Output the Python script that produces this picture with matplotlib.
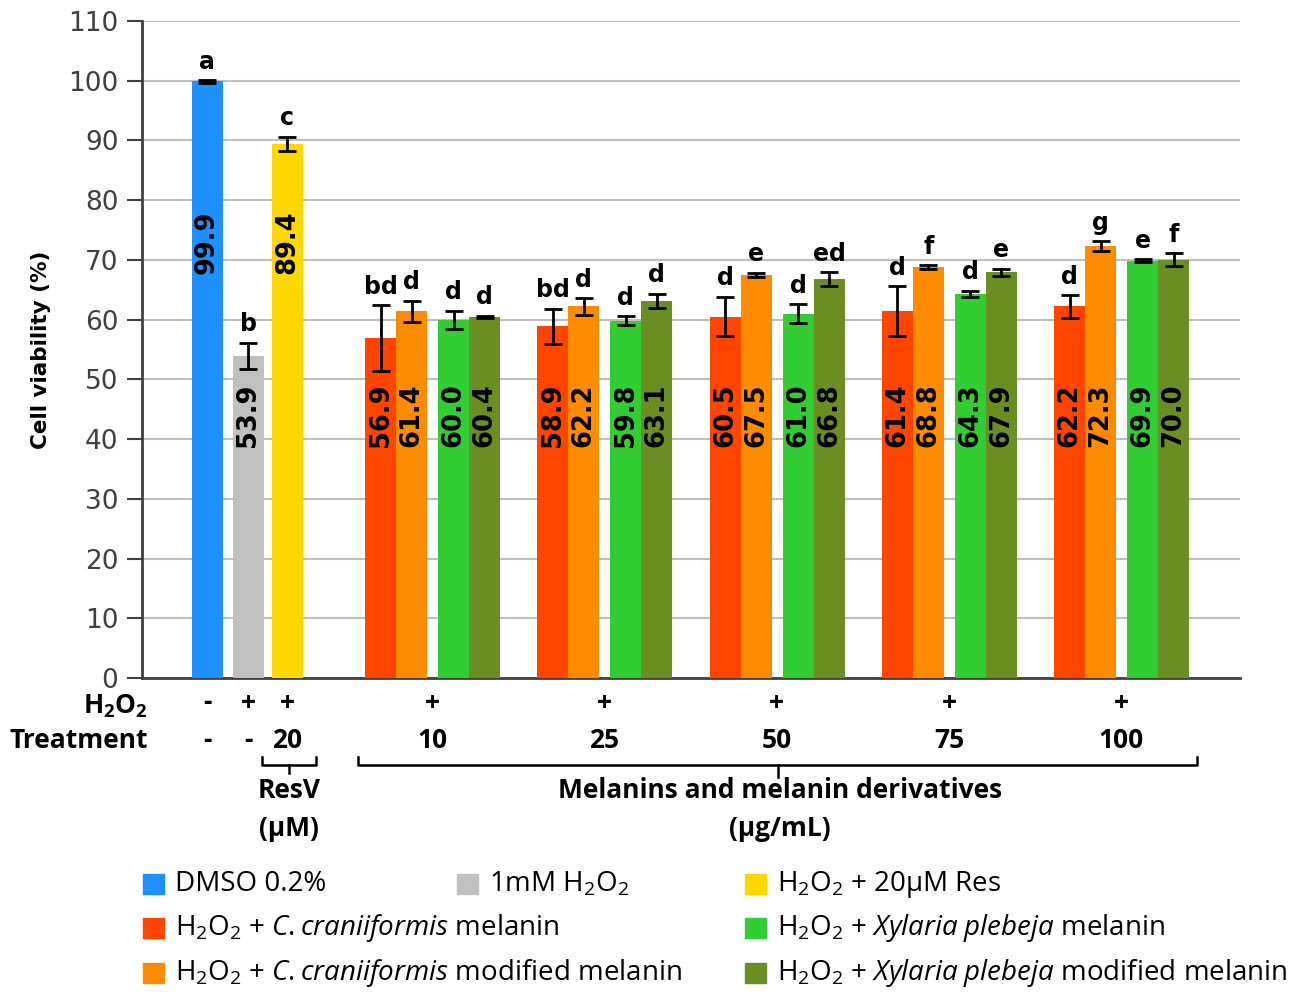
import numpy as np
import matplotlib.pyplot as plt
from matplotlib.patches import Rectangle
from matplotlib.lines import Line2D
from matplotlib.transforms import blended_transform_factory

plt.rcParams['font.family'] = 'DejaVu Sans'
plt.rcParams['mathtext.fontset'] = 'custom'
plt.rcParams['mathtext.rm'] = 'Open Sans'
plt.rcParams['mathtext.it'] = 'Open Sans:italic'
plt.rcParams['mathtext.bf'] = 'Open Sans:bold'

# control bars
ctrl_vals = [99.9, 53.9, 89.4]
ctrl_err = [0.2, 2.2, 1.2]
ctrl_letters = ['a', 'b', 'c']
ctrl_h2o2 = ['-', '+', '+']
ctrl_treat = ['-', '-', '20']
ctrl_colors = ['#1e90ff', '#c0c0c0', '#ffd700']

# melanin groups (ug/mL)
doses = ['10', '25', '50', '75', '100']
cc_mel = [56.9, 58.9, 60.5, 61.4, 62.2]
cc_mel_err = [5.5, 2.9, 3.3, 4.2, 1.9]
cc_mod = [61.4, 62.2, 67.5, 68.8, 72.3]
cc_mod_err = [1.8, 1.4, 0.3, 0.3, 0.8]
xp_mel = [60.0, 59.8, 61.0, 64.3, 69.9]
xp_mel_err = [1.5, 0.75, 1.6, 0.5, 0.2]
xp_mod = [60.4, 63.1, 66.8, 67.9, 70.0]
xp_mod_err = [0.2, 1.2, 1.1, 0.6, 1.1]
let_cc_mel = ['bd', 'bd', 'd', 'd', 'd']
let_cc_mod = ['d', 'd', 'e', 'f', 'g']
let_xp_mel = ['d', 'd', 'd', 'd', 'e']
let_xp_mod = ['d', 'd', 'ed', 'e', 'f']
mel_colors = ['#ff4500', '#ff8c00', '#32cd32', '#6b8e23']

legend_labels = ['DMSO 0.2%', r'1mM H$_2$O$_2$', r'H$_2$O$_2$ + 20µM Res',
                 r'H$_2$O$_2$ + $\mathit{C.craniiformis}$ melanin',
                 r'H$_2$O$_2$ + $\mathit{Xylaria\;plebeja}$ melanin',
                 r'H$_2$O$_2$ + $\mathit{C.craniiformis}$ modified melanin',
                 r'H$_2$O$_2$ + $\mathit{Xylaria\;plebeja}$ modified melanin']
legend_colors = ctrl_colors + [mel_colors[0], mel_colors[2], mel_colors[1], mel_colors[3]]

W, H = 1309, 992
fig = plt.figure(figsize=(W / 100, H / 100), dpi=100)
ax = fig.add_axes([142 / W, 1 - 678 / H, (1240 - 142) / W, (678 - 21) / H])
ax.set_xlim(142, 1240)
ax.set_ylim(0, 110)

bw = 31
ctrl_x = np.array([207, 248, 287])
grp_x = 432 + 172.3 * np.arange(len(doses))
offs = [-51.5, -20.5, 21.5, 52.5]

ek = dict(fmt='none', ecolor='black', elinewidth=2, capsize=6.5, capthick=2, zorder=4)
lab = dict(rotation=90, ha='center', va='center', fontsize=18.5, fontweight='bold', zorder=5)
let = dict(ha='center', va='bottom', fontsize=17, fontweight='bold', zorder=5)

ax.bar(ctrl_x, ctrl_vals, width=bw, color=ctrl_colors, zorder=3)
ax.errorbar(ctrl_x, ctrl_vals, yerr=ctrl_err, **ek)
ctrl_label_y = [73, 44, 73]
for x, v, e, l, ly in zip(ctrl_x, ctrl_vals, ctrl_err, ctrl_letters, ctrl_label_y):
    ax.text(x, ly, f'{v:.1f}', **lab)
    ax.text(x, v + e + 1.1, l, **let)

series = [(cc_mel, cc_mel_err, let_cc_mel), (cc_mod, cc_mod_err, let_cc_mod),
          (xp_mel, xp_mel_err, let_xp_mel), (xp_mod, xp_mod_err, let_xp_mod)]
for (vals, errs, lets), off, c in zip(series, offs, mel_colors):
    xs = grp_x + off
    ax.bar(xs, vals, width=bw, color=c, zorder=3)
    ax.errorbar(xs, vals, yerr=errs, **ek)
    for x, v, e, l in zip(xs, vals, errs, lets):
        ax.text(x, 44, f'{v:.1f}', **lab)
        ax.text(x, v + e + 1.1, l, **let)

ax.set_yticks(range(0, 111, 10))
ax.set_xticks([])
ax.yaxis.grid(True, color='#bfbfbf', lw=1.5)
ax.set_axisbelow(True)
ax.tick_params(axis='y', length=11, width=1.5, color='#404040', labelcolor='#404040',
               labelsize=19, pad=6)
for s in ['top', 'right']:
    ax.spines[s].set_visible(False)
for s in ['left', 'bottom']:
    ax.spines[s].set_color('#404040')
    ax.spines[s].set_linewidth(2)
ax.set_ylabel('Cell viability (%)', fontsize=15.5, fontweight='bold', labelpad=12)

# rows under the axis
tr = blended_transform_factory(ax.transData, fig.transFigure)
fy = lambda py: 1 - py / H
bt = dict(transform=tr, ha='center', va='center', fontsize=19, family='Open Sans',
          fontweight='bold')
fig.text(148 / W, fy(706), r'$\mathbf{H}_\mathbf{2}\mathbf{O}_\mathbf{2}$', ha='right',
         va='center', fontsize=19)
fig.text(148 / W, fy(741), 'Treatment', ha='right', va='center', fontsize=19,
         family='Open Sans', fontweight='bold')
for x, h, t in zip(ctrl_x, ctrl_h2o2, ctrl_treat):
    ax.text(x, fy(703), h, **bt)
    ax.text(x, fy(741), t, **bt)
for x, d in zip(grp_x, doses):
    ax.text(x, fy(703), '+', **bt)
    ax.text(x, fy(741), d, **bt)

def bracket(x0, x1, xc, yb, tick):
    kw = dict(transform=tr, color='black', lw=1.8, clip_on=False)
    fig.add_artist(Line2D([x0, x0, x1, x1], [fy(yb - 8), fy(yb), fy(yb), fy(yb - 8)], **kw))
    fig.add_artist(Line2D([xc, xc], [fy(yb), fy(yb + tick)], **kw))

bracket(262, 316, 289, 765, 8)
bracket(358, 1197, 778, 765, 12)
ax.text(289, fy(790), 'ResV', **bt)
ax.text(289, fy(828), '(µM)', **bt)
ax.text(780, fy(790), 'Melanins and melanin derivatives', **bt)
ax.text(780, fy(828), '(µg/mL)', **bt)

# legend drawn by hand
leg_pos = [(143, 884), (457, 884), (745, 884), (143, 928), (745, 928), (143, 973), (745, 973)]
for (px, py), c, t in zip(leg_pos, legend_colors, legend_labels):
    fig.add_artist(Rectangle((px / W, fy(py + 10)), 21 / W, 20 / H, color=c,
                             transform=fig.transFigure))
    fig.text((px + 32) / W, fy(py), t, ha='left', va='center', fontsize=20,
             family='Open Sans')

fig.savefig('out.png', dpi=100)
